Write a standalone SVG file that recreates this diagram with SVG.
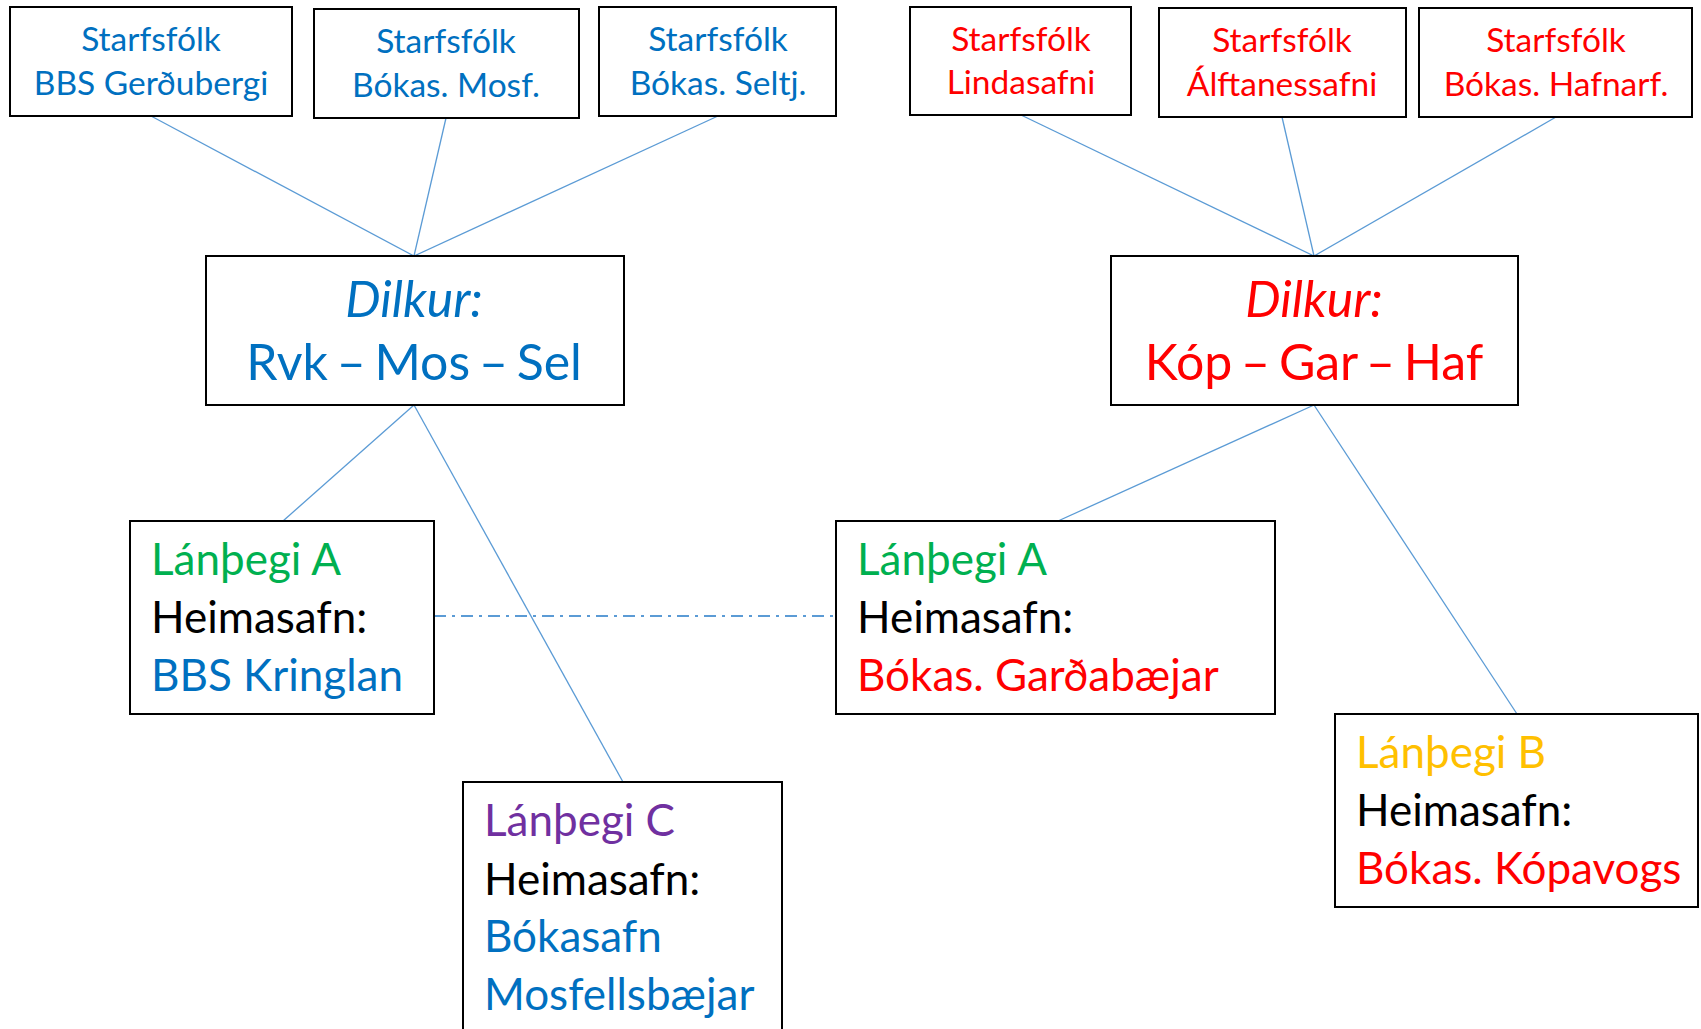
<svg xmlns="http://www.w3.org/2000/svg" width="1701" height="1029" viewBox="0 0 1701 1029">
<style>
.box{fill:#fff;stroke:#000;stroke-width:2}
.ln{stroke:#5b9bd5;stroke-width:1.3;fill:none}
.dash{stroke:#5b9bd5;stroke-width:2;fill:none;stroke-dasharray:12 6 3 6}
text{font-family:Lato,"Liberation Sans",sans-serif}
.s{font-size:33.5px;text-anchor:middle}
.d{font-size:50px;text-anchor:middle}
.w{word-spacing:-4px}
.l{font-size:44px}
.b{fill:#0070c0}.r{fill:#ff0000}.g{fill:#00b050}.y{fill:#ffc000}.p{fill:#7030a0}.k{fill:#000}
</style>
<g id="connectors">
<line class="ln" x1="151" y1="116" x2="414" y2="256"/>
<line class="ln" x1="446" y1="118" x2="414" y2="256"/>
<line class="ln" x1="718" y1="116" x2="414" y2="256"/>
<line class="ln" x1="1021" y1="115" x2="1314" y2="256"/>
<line class="ln" x1="1282" y1="117" x2="1314" y2="256"/>
<line class="ln" x1="1556" y1="117" x2="1314" y2="256"/>
<line class="ln" x1="414" y1="405" x2="283" y2="521"/>
<line class="ln" x1="414" y1="405" x2="623" y2="782"/>
<line class="ln" x1="1314" y1="405" x2="1058" y2="521"/>
<line class="ln" x1="1314" y1="405" x2="1517" y2="714"/>
<line class="dash" x1="434" y1="616" x2="836" y2="616"/>
</g>
<g id="s1"><rect class="box" x="10" y="7" width="282" height="109"/><text class="s b" x="151" y="51">Starfsfólk</text><text class="s b" x="151" y="95">BBS Gerðubergi</text></g>
<g id="s2"><rect class="box" x="314" y="9" width="265" height="109"/><text class="s b" x="446" y="53">Starfsfólk</text><text class="s b" x="446" y="97">Bókas. Mosf.</text></g>
<g id="s3"><rect class="box" x="599" y="7" width="237" height="109"/><text class="s b" x="718" y="51">Starfsfólk</text><text class="s b" x="718" y="95">Bókas. Seltj.</text></g>
<g id="s4"><rect class="box" x="910" y="7" width="221" height="108"/><text class="s r" x="1021" y="51">Starfsfólk</text><text class="s r" x="1021" y="94">Lindasafni</text></g>
<g id="s5"><rect class="box" x="1159" y="8" width="247" height="109"/><text class="s r" x="1282" y="52">Starfsfólk</text><text class="s r" x="1282" y="96">Álftanessafni</text></g>
<g id="s6"><rect class="box" x="1419" y="8" width="273" height="109"/><text class="s r" x="1556" y="52">Starfsfólk</text><text class="s r" x="1556" y="96">Bókas. Hafnarf.</text></g>
<g id="dL"><rect class="box" x="206" y="256" width="418" height="149"/><text class="d b" x="414" y="317" font-style="italic">Dilkur:</text><text class="d b w" x="414" y="380">Rvk – Mos – Sel</text></g>
<g id="dR"><rect class="box" x="1111" y="256" width="407" height="149"/><text class="d r" x="1314" y="317" font-style="italic">Dilkur:</text><text class="d r w" x="1314" y="380">Kóp – Gar – Haf</text></g>
<g id="aL"><rect class="box" x="130" y="521" width="304" height="193"/><text class="l g" x="151" y="575">Lánþegi A</text><text class="l k" x="151" y="633">Heimasafn:</text><text class="l b" x="151" y="691" font-size="43">BBS Kringlan</text></g>
<g id="aR"><rect class="box" x="836" y="521" width="439" height="193"/><text class="l g" x="857" y="575">Lánþegi A</text><text class="l k" x="857" y="633">Heimasafn:</text><text class="l r" x="857" y="691">Bókas. Garðabæjar</text></g>
<g id="bR"><rect class="box" x="1335" y="714" width="363" height="193"/><text class="l y" x="1356" y="768">Lánþegi B</text><text class="l k" x="1356" y="826">Heimasafn:</text><text class="l r" x="1356" y="884">Bókas. Kópavogs</text></g>
<g id="cL"><rect class="box" x="463" y="782" width="319" height="260"/><text class="l p" x="484" y="836">Lánþegi C</text><text class="l k" x="484" y="895">Heimasafn:</text><text class="l b" x="484" y="952">Bókasafn</text><text class="l b" x="484" y="1010">Mosfellsbæjar</text></g>
</svg>
